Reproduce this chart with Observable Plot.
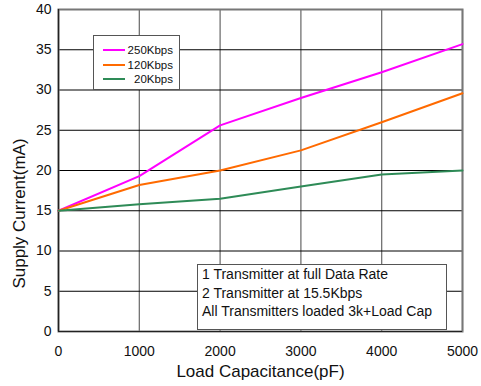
<!DOCTYPE html>
<html>
<head>
<meta charset="utf-8">
<script src="https://cdn.jsdelivr.net/npm/d3@7"></script>
<script src="https://cdn.jsdelivr.net/npm/@observablehq/plot@0.6"></script>
<style>
  body { margin: 0; background: #fff; font-family: "Liberation Sans", Arial, sans-serif; }
  #wrap { position: relative; width: 481px; height: 386px; }
  .box { position: absolute; background: #fff; border: 1.5px solid #555; box-sizing: border-box; color: #111; }
  .leg-row { position: absolute; font-size: 11.5px; line-height: 12px; }
  .leg-line { position: absolute; height: 2px; }
  .note { font-size: 14px; line-height: 18.5px; padding: 0 0 0 4px; }
</style>
</head>
<body>
<div id="wrap"></div>
<script>
const capacitance = [0, 1000, 2000, 3000, 4000, 5000];
const kbps250 = [15, 19.3, 25.6, 29.0, 32.2, 35.7];
const kbps120 = [15, 18.2, 20.0, 22.5, 26.0, 29.6];
const kbps20  = [15, 15.8, 16.5, 18.0, 19.5, 20.0];
const seriesNames = ["250Kbps", "120Kbps", "20Kbps"];
const seriesColors = ["#ff00ff", "#ff6a00", "#2e8b57"];
const xTicks = [0, 1000, 2000, 3000, 4000, 5000];
const yTicks = [0, 5, 10, 15, 20, 25, 30, 35, 40];
const noteLines = ["1 Transmitter at full Data Rate", "2 Transmitter at 15.5Kbps", "All Transmitters loaded 3k+Load Cap"];

const seriesValues = [kbps250, kbps120, kbps20];
const data = seriesNames.flatMap((name, i) =>
  capacitance.map((c, j) => ({series: name, x: c, y: seriesValues[i][j]})));

const plot = Plot.plot({
  width: 481,
  height: 386,
  marginLeft: 58,
  marginRight: 19,
  marginTop: 9,
  marginBottom: 55,
  style: {fontFamily: "Liberation Sans, Arial, sans-serif", fontSize: "14px", color: "#111", background: "#fff"},
  x: {domain: [0, 5000]},
  y: {domain: [0, 40]},
  color: {domain: seriesNames, range: seriesColors},
  marks: [
    Plot.gridX(xTicks, {stroke: "#666", strokeOpacity: 1, strokeWidth: 1.2}),
    Plot.gridY(yTicks, {stroke: "#000", strokeOpacity: 1, strokeWidth: 1}),
    Plot.frame({stroke: "#777", strokeWidth: 2}),
    Plot.ruleX([0], {stroke: "#222", strokeWidth: 1.2}),
    Plot.ruleY([0], {stroke: "#222", strokeWidth: 1.2}),
    Plot.axisX(xTicks, {tickSize: 0, tickPadding: 15, fontSize: 14, tickFormat: d => String(d), label: "Load Capacitance(pF)", labelArrow: "none", labelOffset: 45, labelAnchor: "center"}),
    Plot.axisY(yTicks, {tickSize: 0, tickPadding: 7, fontSize: 14, tickFormat: d => String(d), label: "Supply Current(mA)", labelArrow: "none", labelOffset: 46, labelAnchor: "center"}),
    Plot.line(data, {x: "x", y: "y", z: "series", stroke: "series", strokeWidth: 2})
  ]
});
plot.querySelectorAll('[aria-label="x-axis label"] text, [aria-label="y-axis label"] text').forEach(t => t.setAttribute("font-size", "17"));
// the reference's y title sits lower than the plot's centre
plot.querySelectorAll('[aria-label="y-axis label"] text').forEach(t => {
  const tr = t.getAttribute("transform");
  if (tr) t.setAttribute("transform", tr.replace(/translate\(([^,]+),([^)]+)\)/, (m, a, b) => `translate(${a},${+b + 43})`));
});

const wrap = document.getElementById("wrap");
wrap.appendChild(plot);

// legend box
const leg = document.createElement("div");
leg.className = "box";
Object.assign(leg.style, {left: "93px", top: "35px", width: "87px", height: "55px"});
const rowCenters = [13.5, 28.5, 42.8];
seriesNames.forEach((name, i) => {
  const ln = document.createElement("div");
  ln.className = "leg-line";
  Object.assign(ln.style, {left: "8.5px", width: "22px", top: (rowCenters[i] - 1) + "px", background: seriesColors[i]});
  leg.appendChild(ln);
  const tx = document.createElement("div");
  tx.className = "leg-row";
  tx.textContent = name;
  Object.assign(tx.style, {right: "6px", top: (rowCenters[i] - 6) + "px"});
  leg.appendChild(tx);
});
wrap.appendChild(leg);

// note box
const note = document.createElement("div");
note.className = "box note";
Object.assign(note.style, {left: "197px", top: "264px", width: "250px", height: "66px"});
note.innerHTML = noteLines.map(s => `<div>${s}</div>`).join("");
wrap.appendChild(note);
</script>
</body>
</html>
